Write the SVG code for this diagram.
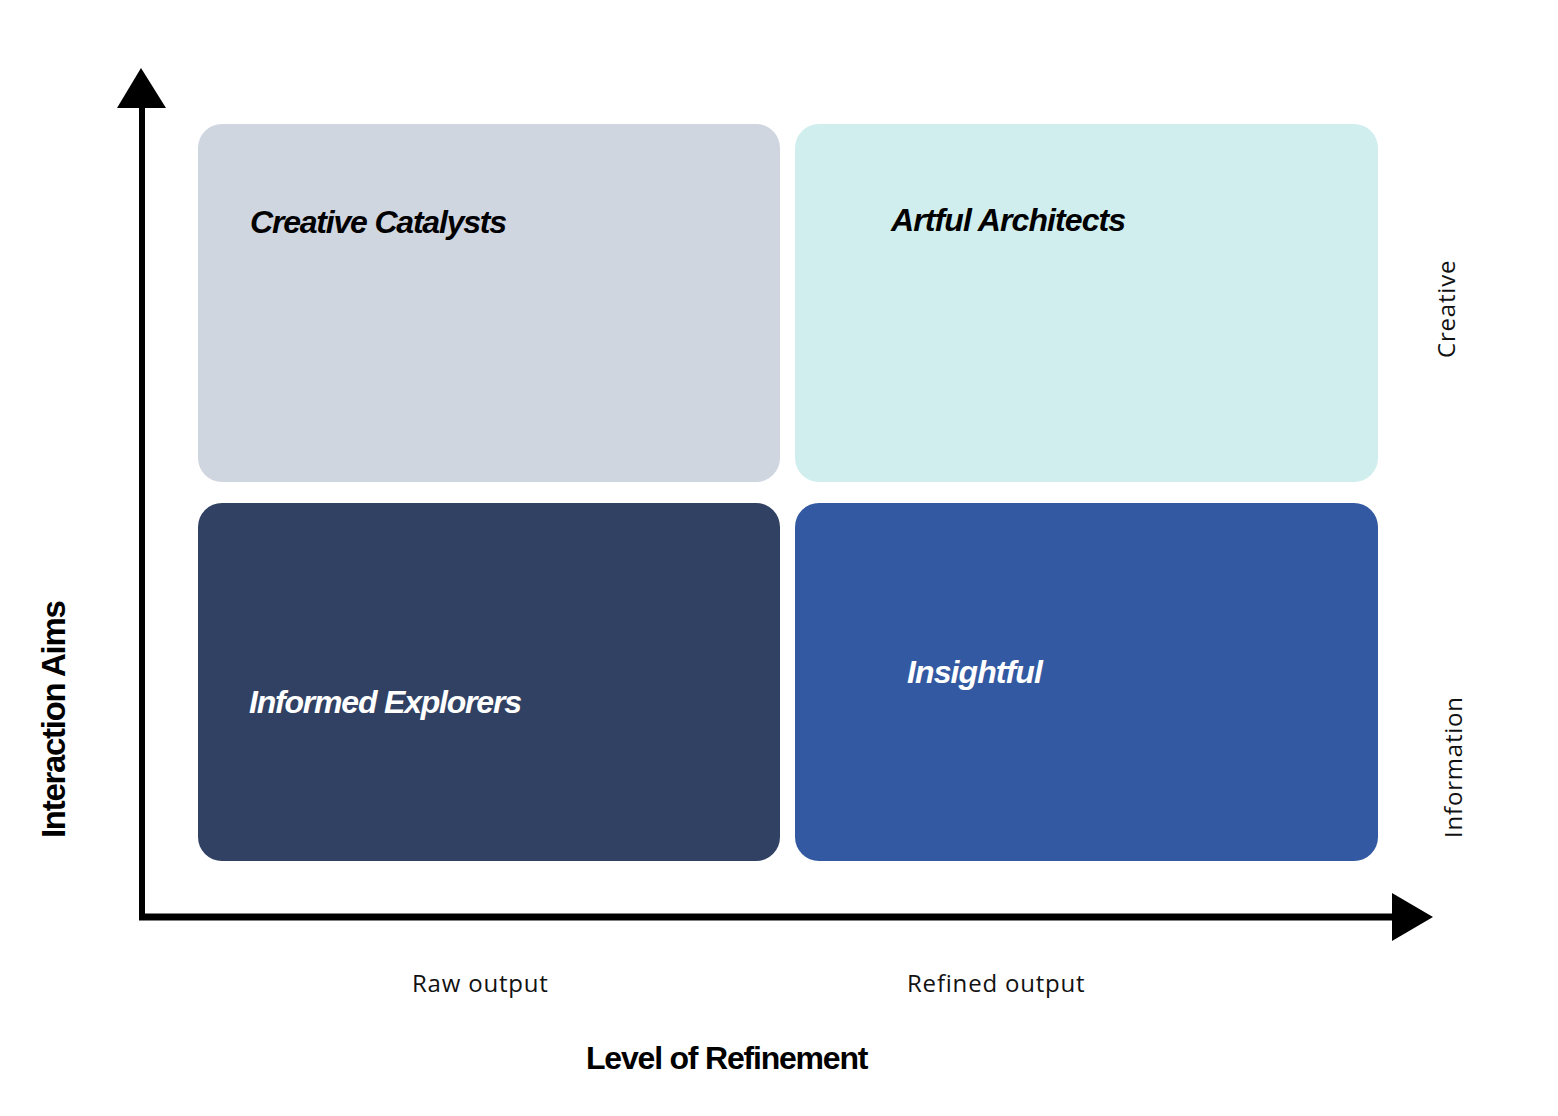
<svg xmlns="http://www.w3.org/2000/svg" width="1558" height="1116" viewBox="0 0 1558 1116">
<style>
.q{font-family:"Liberation Sans",Arial,sans-serif;font-size:32px;font-style:italic;font-weight:bold;letter-spacing:-1.2px}
.ax{font-family:"Liberation Sans",Arial,sans-serif;font-size:32px;font-weight:bold;letter-spacing:-1.2px;fill:#000}
.sm{font-family:"Open Sans","Noto Sans",sans-serif;font-size:24px;letter-spacing:0.8px;fill:#111}
</style>
<rect width="1558" height="1116" fill="#fff"/>
<g id="creative-catalysts">
<rect x="198" y="124" width="582" height="358" rx="24" fill="#D0D6E0"/>
<text class="q" x="250" y="233" fill="#000">Creative Catalysts</text>
</g>
<g id="artful-architects">
<rect x="795" y="124" width="583" height="358" rx="24" fill="#D1EEEE"/>
<text class="q" x="891" y="231" fill="#000" style="letter-spacing:-0.9px">Artful Architects</text>
</g>
<g id="informed-explorers">
<rect x="198" y="503" width="582" height="358" rx="24" fill="#304163"/>
<text class="q" x="249" y="713" fill="#fff">Informed Explorers</text>
</g>
<g id="insightful">
<rect x="795" y="503" width="583" height="358" rx="24" fill="#3259A1"/>
<text class="q" x="907" y="683" fill="#fff" style="letter-spacing:-0.9px">Insightful</text>
</g>
<g id="connectors">
<line x1="142" y1="104" x2="142" y2="920" stroke="#000" stroke-width="6"/>
<line x1="139" y1="917" x2="1396" y2="917" stroke="#000" stroke-width="7"/>
<polygon points="141,68 166,108 117,108" fill="#000"/>
<polygon points="1433,917 1392,893 1392,941" fill="#000"/>
</g>
<g id="labels">
<text class="ax" transform="translate(65,838) rotate(-90)" style="font-size:33px;letter-spacing:-1.3px">Interaction Aims</text>
<text class="ax" x="586" y="1069">Level of Refinement</text>
<text class="sm" x="412" y="992">Raw output</text>
<text class="sm" x="907" y="992">Refined output</text>
<text class="sm" transform="translate(1455,358) rotate(-90)">Creative</text>
<text class="sm" transform="translate(1462,838) rotate(-90)">Information</text>
</g>
</svg>
